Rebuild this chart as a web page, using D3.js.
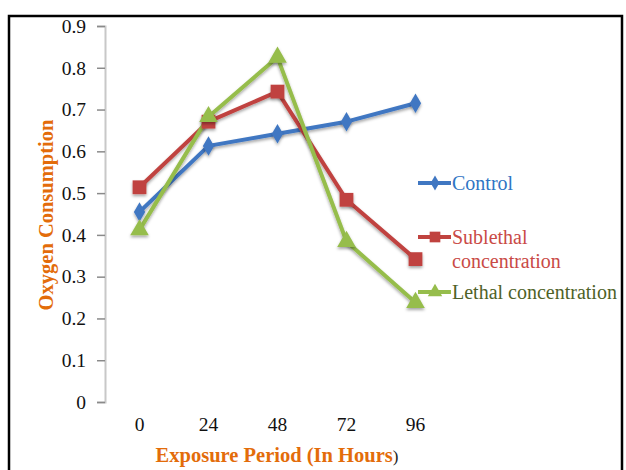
<!DOCTYPE html>
<html>
<head>
<meta charset="utf-8">
<script src="https://cdn.jsdelivr.net/npm/d3@7.9.0/dist/d3.min.js"></script>
<style>
  body { margin: 0; background: #fff; }
  svg text { font-family: "Liberation Serif", "DejaVu Serif", serif; }
</style>
</head>
<body>
<svg id="chart" width="626" height="470"></svg>
<script>
// data
const hours = ['0', '24', '48', '72', '96'];
const control = [0.455, 0.613, 0.642, 0.671, 0.715];
const sublethal = [0.514, 0.671, 0.743, 0.484, 0.342];
const lethal = [0.412, 0.683, 0.825, 0.384, 0.238];
const yTicks = [0, 0.1, 0.2, 0.3, 0.4, 0.5, 0.6, 0.7, 0.8, 0.9];

const seriesList = [
  { name: ['Control'], values: control, color: '#4077c2', text: '#2f75c4', shape: d3.symbolDiamond, size: 110, ly: 183 },
  { name: ['Sublethal', 'concentration'], values: sublethal, color: '#c0433f', text: '#c94a46', shape: d3.symbolSquare, size: 190, ly: 237 },
  { name: ['Lethal concentration'], values: lethal, color: '#96bd4c', text: '#4f6228', shape: d3.symbolTriangle, size: 150, ly: 292 }
];

const svg = d3.select('#chart');

// outer frame
svg.append('path')
  .attr('d', 'M9,470 V16 H622 V470')
  .attr('fill', 'none')
  .attr('stroke', '#000')
  .attr('stroke-width', 2.5);

const x = d3.scaleBand().domain(hours).range([105, 450]);
const y = d3.scaleLinear().domain([0, 0.9]).range([402, 26]);

// y axis
const yAxis = svg.append('g')
  .attr('transform', 'translate(105,0)')
  .call(d3.axisLeft(y).tickValues(yTicks).tickSize(8).tickPadding(11)
    .tickFormat(d => d === 0 ? '0' : d3.format('.1f')(d)));
yAxis.select('.domain').attr('stroke', '#c8c8c8').attr('stroke-width', 2);
yAxis.selectAll('.tick line').attr('stroke', '#8a8a8a').attr('stroke-width', 1.5);
yAxis.selectAll('.tick text').attr('font-size', 19.5).attr('fill', '#111')
  .attr('font-family', '"Liberation Serif", serif');

// x axis labels (no axis line)
const xAxis = svg.append('g')
  .attr('transform', 'translate(0,402)')
  .call(d3.axisBottom(x).tickSize(0).tickPadding(15));
xAxis.select('.domain').remove();
xAxis.selectAll('.tick text').attr('font-size', 19.5).attr('fill', '#111')
  .attr('font-family', '"Liberation Serif", serif');

// axis titles
svg.append('text')
  .attr('transform', 'translate(53,215) rotate(-90)')
  .attr('text-anchor', 'middle')
  .attr('font-size', 20.5)
  .attr('font-weight', 'bold')
  .attr('fill', '#e36c0a')
  .text('Oxygen Consumption');

const xt = svg.append('text')
  .attr('x', 277).attr('y', 462)
  .attr('text-anchor', 'middle')
  .attr('font-size', 20.5)
  .attr('font-weight', 'bold')
  .attr('fill', '#e36c0a');
xt.append('tspan').text('Exposure Period (In Hours');
xt.append('tspan').attr('fill', '#222').attr('font-weight', 'normal').attr('font-size', 17).text(')');

// shadow filter
const defs = svg.append('defs');
const f = defs.append('filter').attr('id', 'sh').attr('x', '-50%').attr('y', '-50%').attr('width', '200%').attr('height', '200%');
f.append('feDropShadow').attr('dx', 0).attr('dy', 2).attr('stdDeviation', 1.5).attr('flood-color', '#000').attr('flood-opacity', 0.35);

const line = d3.line()
  .x((d, i) => x(hours[i]) + x.bandwidth() / 2)
  .y(d => y(d));

seriesList.forEach(s => {
  svg.append('path')
    .datum(s.values)
    .attr('d', line)
    .attr('fill', 'none')
    .attr('stroke', s.color)
    .attr('stroke-width', 4)
    .attr('stroke-linejoin', 'round')
    .attr('filter', 'url(#sh)');
});

seriesList.forEach(s => {
  svg.append('g').selectAll('path')
    .data(s.values)
    .join('path')
    .attr('transform', (d, i) => `translate(${x(hours[i]) + x.bandwidth() / 2},${y(d)})`)
    .attr('d', d3.symbol().type(s.shape).size(s.size))
    .attr('fill', s.color)
    .attr('filter', 'url(#sh)');
});

// legend
seriesList.forEach(s => {
  const g = svg.append('g').attr('transform', `translate(418,${s.ly})`);
  g.append('line').attr('x1', 0).attr('x2', 33).attr('stroke', s.color).attr('stroke-width', 4);
  g.append('path').attr('transform', 'translate(17,0)')
    .attr('d', d3.symbol().type(s.shape).size(s.size * 0.6)).attr('fill', s.color);
  const t = g.append('text').attr('x', 34).attr('y', 7).attr('font-size', 20).attr('fill', s.text);
  s.name.forEach((n, i) => {
    t.append('tspan').attr('x', 34).attr('dy', i === 0 ? 0 : 24).text(n);
  });
});
</script>
</body>
</html>
